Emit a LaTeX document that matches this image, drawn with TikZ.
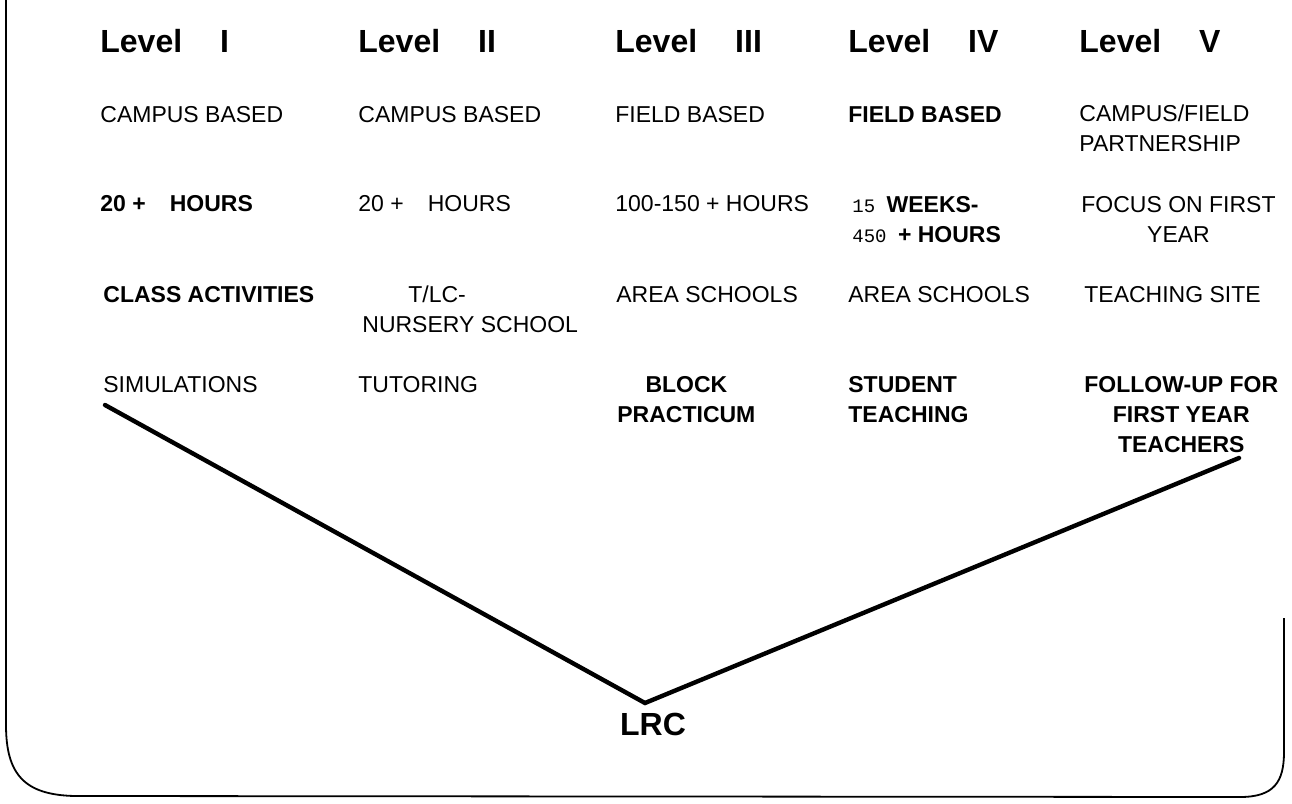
\documentclass[tikz,border=0pt]{standalone}
\usepackage{fontspec}
\setmainfont{Liberation Sans}
\newfontfamily\monofont{Liberation Mono}
\begin{document}
\begin{tikzpicture}[x=0.5pt,y=-0.5pt,
	level/.style={anchor=base west,inner sep=0pt,font=\fontsize{16}{19}\selectfont\bfseries},
	item/.style={anchor=base west,inner sep=0pt,font=\fontsize{11.5}{15}\selectfont},
	itemb/.style={item,font=\fontsize{11.5}{15}\selectfont\bfseries},
	vline/.style={line width=2.2pt,line cap=round},
	frame/.style={line width=0.9pt}]
		\useasboundingbox (0,0) rectangle (1292,804);
		
		\foreach \n/\x/\r in {1/100/I,2/358/II,3/615/III,4/848/IV,5/1079/V}
			\node[level] (lev\n) at (\x,52) {Level\hspace{19pt}\r};
		
		% setting (multi-line nodes sit on their last line)
		\node[item] (set1) at (100,122) {CAMPUS BASED};
		\node[item] (set2) at (358,122) {CAMPUS BASED};
		\node[item] (set3) at (615,122) {FIELD BASED};
		\node[itemb] (set4) at (848,122) {FIELD BASED};
		\node[item,align=left] (set5) at (1079,151) {CAMPUS/FIELD\\PARTNERSHIP};
		
		% hours
		\node[itemb] (hrs1) at (100,211) {20 +\hspace{12pt}HOURS};
		\node[item] (hrs2) at (358,211) {20 +\hspace{12pt}HOURS};
		\node[item] (hrs3) at (615,211) {100-150 + HOURS};
		\node[itemb,align=left] (hrs4) at (852,242)
			{{\monofont\mdseries\fontsize{9.5}{15}\selectfont 15 }WEEKS-\\{\monofont\mdseries\fontsize{9.5}{15}\selectfont 450 }+ HOURS};
		\node[item,align=center] (hrs5) at (1081,242) {FOCUS ON FIRST\\YEAR};
		
		% site
		\node[itemb] (site1) at (103,302) {CLASS ACTIVITIES};
		\node[item,align=left] (site2) at (362,332) {\hspace*{23pt}T/LC-\\NURSERY SCHOOL};
		\node[item] (site3) at (616,302) {AREA SCHOOLS};
		\node[item] (site4) at (848,302) {AREA SCHOOLS};
		\node[item] (site5) at (1084,302) {TEACHING SITE};
		
		% activity
		\node[item] (act1) at (103,392) {SIMULATIONS};
		\node[item] (act2) at (358,392) {TUTORING};
		\node[itemb,align=center] (act3) at (617,422) {BLOCK\\PRACTICUM};
		\node[itemb,align=left] (act4) at (848,422) {STUDENT\\TEACHING};
		\node[itemb,align=center] (act5) at (1084,452) {FOLLOW-UP FOR\\FIRST YEAR\\TEACHERS};
		
		\node[level,anchor=base] (lrc) at (653,735) {LRC};
		
		\coordinate (vleft) at (105,405);
		\coordinate (vtip) at (645,703);
		\coordinate (vright) at (1239,458);
		\draw[vline] (vleft) -- (vtip) -- (vright);
		
		\draw[frame] (6,0) -- (6,725) .. controls (6,775) and (25,795) .. (75,796)
			-- (1240,797) .. controls (1274,797) and (1284,782) .. (1284,752) -- (1284,618);
\end{tikzpicture}
\end{document}
